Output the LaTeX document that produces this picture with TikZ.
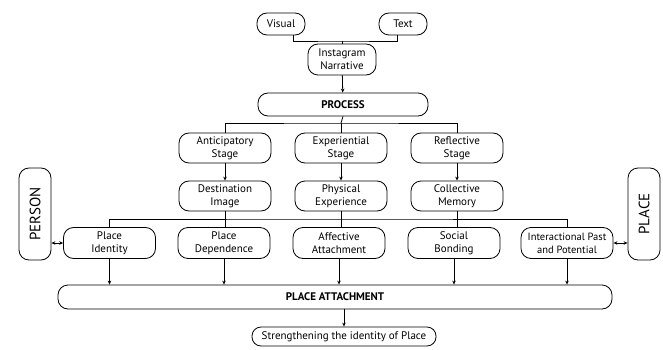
\documentclass[tikz,border=0pt]{standalone}
\usepackage{fontspec}
\setmainfont{PT Sans}
\usepackage{tikz}
\usetikzlibrary{positioning}
\usetikzlibrary{calc}
\usetikzlibrary{arrows.meta}

\tikzset{
  box/.style={draw, rounded corners=10pt, line width=0.8pt, align=center,
    inner sep=0pt, minimum width=92pt, minimum height=31pt,
    font=\fontsize{11}{13}\selectfont},
  smallbox/.style={box, minimum width=48pt, minimum height=22pt},
  widebox/.style={box, font=\fontsize{11}{13}\selectfont\bfseries, minimum height=24pt},
  sidebox/.style={box, minimum width=92pt, minimum height=32pt, rotate=90,
    font=\fontsize{15}{17}\selectfont},
  link/.style={line width=0.8pt},
}

\begin{document}
\begin{tikzpicture}[x=1pt, y=-1pt, >={Stealth[length=4pt,width=3.5pt]}]
\useasboundingbox (0,0) rectangle (663,350);

%---------------------------------------
% Narrative and process
%---------------------------------------
\node[smallbox] (vis) at (281,24) {Visual};
\node[smallbox] (txt) at (403,24) {Text};
\node[box, minimum width=68pt] (ig) at (342,59.5) {Instagram\\Narrative};
\node[widebox, minimum width=170pt, minimum height=23pt] (proc) at (343,104.5) {PROCESS};

\coordinate (topbus) at (342,41);
\draw[link] (vis.south -| 293,0) |- (topbus) -| (txt.south -| 397,0);
\draw[link] (topbus) -- (ig.north);
\draw[link, ->] (ig) -- (proc);

%---------------------------------------
% Stages
%---------------------------------------
\node[box, minimum height=30pt] (ant) at (225,148) {Anticipatory\\Stage};
\node[box, minimum height=30pt] (exper) at (341,148) {Experiential\\Stage};
\node[box, minimum height=30pt] (refl) at (457,148) {Reflective\\Stage};

\node[box, minimum height=30pt] (dest) at (225,196) {Destination\\Image};
\node[box, minimum height=30pt] (phys) at (341,196) {Physical\\Experience};
\node[box, minimum height=30pt] (coll) at (457,196) {Collective\\Memory};

\coordinate (stagebus) at (341,123);
\draw[link] (proc.south) -- (stagebus);
\draw[link] (ant.north) |- (stagebus) -| (refl.north);
\draw[link] (stagebus) -- (exper.north);

\draw[link, ->] (ant) -- (dest);
\draw[link, ->] (exper) -- (phys);
\draw[link, ->] (refl) -- (coll);

%---------------------------------------
% Dimensions of attachment
%---------------------------------------
\node[box] (pid) at (109.5,243) {Place\\Identity};
\node[box] (pdep) at (224,243) {Place\\Dependence};
\node[box] (aff) at (339,243) {Affective\\Attachment};
\node[box] (soc) at (454,243) {Social\\Bonding};
\node[box, font=\fontsize{10.5}{13}\selectfont] (inter) at (567,243) {Interactional Past\\and Potential};

\node[sidebox] (person) at (35,214) {PERSON};
\node[sidebox] (placeb) at (644,214) {PLACE};

\coordinate (dimbus) at (341,219);
\draw[link] (pid.north) |- (dimbus) -| (inter.north);
\draw[link] (dest.south) -- (dest.south |- pdep.north);
\draw[link] (phys.south) -- (phys.south |- aff.north);
\draw[link] (coll.south) -- (coll.south |- soc.north);

\draw[link, <->] (person.south |- pid.west) -- (pid.west);
\draw[link, <->] (inter.east) -- (inter.east -| placeb.north);

%---------------------------------------
% Place attachment
%---------------------------------------
\node[widebox, minimum width=554pt] (pa) at (335,297) {PLACE ATTACHMENT};
\node[box, minimum width=184pt, minimum height=19pt, rounded corners=9pt] (str) at (344,336.5) {Strengthening the identity of Place};

\foreach \n in {pid,pdep,aff,soc,inter}
  \draw[link, ->] (\n.south) -- (\n.south |- pa.north);

\draw[link, ->] (pa.south -| str.north) -- (str.north);

\end{tikzpicture}
\end{document}
